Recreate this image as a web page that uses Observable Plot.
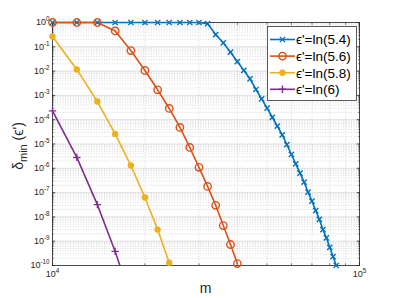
<!DOCTYPE html>
<html><head><meta charset="utf-8">
<script src="https://cdn.jsdelivr.net/npm/d3@7"></script>
<script src="https://cdn.jsdelivr.net/npm/@observablehq/plot@0.6"></script>
<style>
html,body{margin:0;padding:0;background:#fff;}
#chart{position:relative;width:397px;height:298px;}
</style></head><body><div id="chart"></div>
<script>
// ---- data ----
const mBlue = [10000,12000,14000,16000,18000,20000,22000,24000,26000,28000,30000,32000,34000,36000,38000,40000,42000,44000,46000,48000,50000,52000,54000,56000,58000,60000,62000,64000,66000,68000,70000,72000,74000,76000,78000,80000,82000,84000];
const dBlue = [1,1,1,1,1,1,1,1,1,1,1,0.9,0.32,0.146,0.06,0.0248,0.0106,4.8e-3,1.75e-3,7.2e-4,2.97e-4,1.26e-4,5.4e-5,2.4e-5,9.5e-6,3.7e-6,1.53e-6,6.3e-7,2.7e-7,1.04e-7,4.5e-8,1.83e-8,7.9e-9,3e-9,1.38e-9,5.6e-10,2.34e-10,1e-10];
const mOrange = [10000,12000,14000,16000,18000,20000,22000,24000,26000,28000,30000,32000,34000,36000,38000,40000];
const dOrange = [1,1,1,0.45,0.07,0.0106,1.7e-3,2.9e-4,4.8e-5,7.2e-6,1.1e-6,1.8e-7,3e-8,4.4e-9,7.3e-10,1.2e-10];
const mYellow = [10000,12000,14000,16000,18000,20000,22000,24000,26000];
const dYellow = [0.265,0.0117,5.6e-4,2.6e-5,1.3e-6,6.3e-8,3e-9,1.3e-10,6e-12];
const mPurple = [10000,12000,14000,16000,18000];
const dPurple = [2.3e-4,2.8e-6,3.2e-8,3.8e-10,4.5e-12];

const seriesNames = ["ϵ'=ln(5.4)","ϵ'=ln(5.6)","ϵ'=ln(5.8)","ϵ'=ln(6)"];
const seriesColors = ["#0072BD","#D95319","#EDB120","#7E2F8E"];
const seriesSymbols = ["times","circle","circle","plus"];
const seriesFilled = [false,false,true,false];
const seriesR = [2.5,3.7,2.5,2.5];

const yMajor = [1e-10,1e-9,1e-8,1e-7,1e-6,1e-5,1e-4,1e-3,1e-2,1e-1,1];
const yMinorFactors = [2,3,4,5,6,7,8,9];
const xMajor = [1e4,1e5];
const xMinor = [2e4,3e4,4e4,5e4,6e4,7e4,8e4,9e4];
const xLabel = "m";

// ---- build ----
const yMinor = yMajor.slice(0,-1).flatMap(d => yMinorFactors.map(f => d*f));
const allM = [mBlue,mOrange,mYellow,mPurple];
const allD = [dBlue,dOrange,dYellow,dPurple];
const series = seriesNames.map((name,i) => ({
  name, color: seriesColors[i], symbol: seriesSymbols[i], r: seriesR[i],
  fill: seriesFilled[i] ? seriesColors[i] : "none",
  rows: allM[i].map((m,j) => ({m, d: allD[i][j]}))
}));

const W = 397, H = 298, mL = 52, mR = 38, mT = 22, mB = 33;
const yLo = 1e-10, yHi = 1;
const exp = d => Math.round(Math.log10(d));
const axisCol = "#262626";

const marks = [
  Plot.gridY(yMinor, {stroke:"#000", strokeOpacity:0.25, strokeDasharray:"1,1.6", strokeWidth:0.6}),
  Plot.gridX(xMinor, {stroke:"#000", strokeOpacity:0.25, strokeDasharray:"1,1.6", strokeWidth:0.6}),
  Plot.gridY(yMajor, {stroke:"#000", strokeOpacity:0.14, strokeWidth:0.9}),
  Plot.gridX(xMajor, {stroke:"#000", strokeOpacity:0.14, strokeWidth:0.9}),
  Plot.axisY({ticks: yMajor, anchor:"left", tickSize:-3.2, tickPadding:6.2, tickFormat: d => "10^" + exp(d), fontSize: 9, fill: axisCol, stroke: axisCol, strokeWidth:0.8, label:null}),
  Plot.axisY({ticks: yMajor, anchor:"right", tickSize:-3.2, fill:"none", stroke: axisCol, strokeWidth:0.8, label:null}),
  Plot.axisY({ticks: yMinor, anchor:"left", tickSize:-1.8, fill:"none", stroke: axisCol, strokeWidth:0.6, label:null}),
  Plot.axisY({ticks: yMinor, anchor:"right", tickSize:-1.8, fill:"none", stroke: axisCol, strokeWidth:0.6, label:null}),
  Plot.axisX({ticks: xMajor, anchor:"bottom", tickSize:-3.2, tickPadding:8.7, tickFormat: d => "10^" + exp(d), fontSize: 9, fill: axisCol, stroke: axisCol, strokeWidth:0.8, label:null}),
  Plot.axisX({ticks: xMajor, anchor:"top", tickSize:-3.2, fill:"none", stroke: axisCol, strokeWidth:0.8, label:null}),
  Plot.axisX({ticks: xMinor, anchor:"bottom", tickSize:-1.8, fill:"none", stroke: axisCol, strokeWidth:0.6, label:null}),
  Plot.axisX({ticks: xMinor, anchor:"top", tickSize:-1.8, fill:"none", stroke: axisCol, strokeWidth:0.6, label:null}),
  Plot.frame({stroke: axisCol, strokeWidth: 0.8}),
  ...series.map(s => Plot.line(s.rows, {x:"m", y:"d", stroke:s.color, strokeWidth:1.6, clip: s.rows.some(r => r.d < yLo)})),
  ...series.map(s => Plot.dot(s.rows.filter(r => r.d >= yLo*0.999), {x:"m", y:"d", symbol:s.symbol, r:s.r, stroke:s.color, fill:s.fill, strokeWidth:1.4}))
];

const chart = Plot.plot({
  width: W, height: H,
  marginLeft: mL, marginRight: mR, marginTop: mT, marginBottom: mB,
  style: {fontFamily: "'Liberation Sans', Arial, 'DejaVu Sans', sans-serif", fontSize: "9px", background: "#fff", color: axisCol},
  x: {type:"log", domain:[1e4,1e5]},
  y: {type:"log", domain:[yLo,yHi]},
  marks
});
document.getElementById("chart").appendChild(chart);

const svg = d3.select(chart);
// superscript tick labels
svg.selectAll('g[aria-label="y-axis tick label"] text, g[aria-label="x-axis tick label"] text').each(function(){
  const t = d3.select(this);
  const s = t.text();
  const parts = s.split("^");
  t.text(null);
  t.append("tspan").text(parts[0]);
  t.append("tspan").attr("dy", -4).attr("font-size", "6.3px").text(parts[1]);
});

const font = "'Liberation Sans', Arial, 'DejaVu Sans', sans-serif";
// y label
const yl = svg.append("text")
  .attr("transform", `translate(22.5,${(mT + H - mB)/2 + 2.5}) rotate(-90)`)
  .attr("text-anchor","middle").attr("fill", axisCol)
  .style("font-family", font).style("font-size","14px");
yl.append("tspan").text("δ");
yl.append("tspan").attr("dy", 4).attr("font-size","11px").text("min");
yl.append("tspan").attr("dy", -4).text(" (ϵ')");
// x label
svg.append("text")
  .attr("x", (mL + W - mR)/2).attr("y", H - 5)
  .attr("text-anchor","middle").attr("fill", axisCol)
  .style("font-family", font).style("font-size","14px").text(xLabel);

// legend
const lg = svg.append("g").attr("transform", `translate(${W - mR - 92},${mT + 4})`);
lg.append("rect").attr("x",0.5).attr("y",0.5).attr("width",89).attr("height",74)
  .attr("fill","#fff").attr("stroke","#333").attr("stroke-width",0.8);
const symMap = {times:d3.symbolTimes, circle:d3.symbolCircle, asterisk:d3.symbolAsterisk, plus:d3.symbolPlus};
series.forEach((s,i) => {
  const cy = 13.5 + i*16.6;
  const g = lg.append("g").attr("transform", `translate(0,${cy})`);
  g.append("line").attr("x1",3).attr("x2",28).attr("y1",0).attr("y2",0)
    .attr("stroke", s.color).attr("stroke-width",1.6);
  g.append("path").attr("transform","translate(15.5,0)")
    .attr("d", d3.symbol(symMap[s.symbol], Math.PI*s.r*s.r)())
    .attr("fill", s.fill).attr("stroke", s.color).attr("stroke-width",1.4);
  g.append("text").attr("x",29).attr("y",0).attr("dy","0.36em")
    .attr("text-anchor","start")
    .attr("fill","#000").style("font-family", font).style("font-size","13.5px").text(s.name);
});
</script></body></html>
